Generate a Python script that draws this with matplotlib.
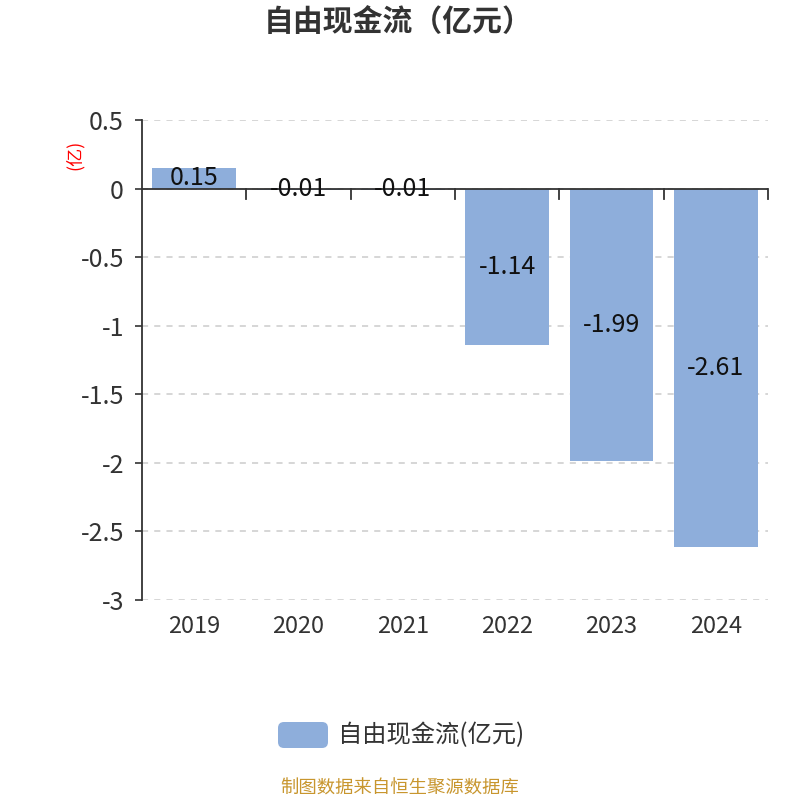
import matplotlib
matplotlib.use("Agg")
import matplotlib.pyplot as plt
from matplotlib.patches import FancyBboxPatch

plt.rcParams['font.family'] = ['Noto Sans CJK SC', 'DejaVu Sans']

years = ['2019', '2020', '2021', '2022', '2023', '2024']
values = [0.15, -0.01, -0.01, -1.14, -1.99, -2.61]
value_labels = ['0.15', '-0.01', '-0.01', '-1.14', '-1.99', '-2.61']
yticks = [0.5, 0, -0.5, -1, -1.5, -2, -2.5, -3]
ytick_labels = ['0.5', '0', '-0.5', '-1', '-1.5', '-2', '-2.5', '-3']

title = '自由现金流（亿元）'
series_name = '自由现金流(亿元)'
unit_label = '(亿)'
source = '制图数据来自恒生聚源数据库'

bar_color = '#8eaedb'
text_color = '#333333'

fig = plt.figure(figsize=(8, 8), dpi=100)
ax = fig.add_axes([142/800, 1-600/800, (768-142)/800, 480/800])

x = list(range(len(years)))
ax.bar(x, values, width=0.8, color=bar_color, zorder=3)

ax.set_xlim(-0.5, len(years) - 0.5)
ax.set_ylim(-3, 0.5)

ax.set_yticks(yticks)
ax.set_yticklabels(ytick_labels, fontsize=18, color=text_color)
ax.tick_params(axis='y', length=5, width=1.2, color=text_color, pad=8)

for y in yticks:
    ax.axhline(y, color='#cccccc', linestyle=(0, (4, 4)), linewidth=1.1, zorder=1)

for s in ['top', 'right', 'bottom']:
    ax.spines[s].set_visible(False)
ax.spines['left'].set_color(text_color)
ax.spines['left'].set_linewidth(1.3)

# x axis line at zero with boundary ticks
ax.axhline(0, color=text_color, linewidth=1.3, zorder=4)
ax.set_xticks([])
for b in range(1, len(years) + 1):
    ax.plot([b - 0.5, b - 0.5], [0, -0.075], color=text_color, linewidth=1.3, zorder=4, clip_on=False)

# category labels at bottom
for i, yr in enumerate(years):
    ax.text(i, -3.11, yr, ha='center', va='top', fontsize=17, color=text_color)

# data labels centered on bars
for i, (v, lab) in enumerate(zip(values, value_labels)):
    ax.text(i, v / 2, lab, ha='center', va='center', fontsize=18, color='#111111', zorder=5)

# unit label
fig.text(75/800, 1-155/800, unit_label, rotation=90, color='red', fontsize=13,
         ha='center', va='center')

# title
fig.text(398/800, 1-22/800, title, ha='center', va='center', fontsize=21.5,
         fontweight='bold', color=text_color)

# legend
leg_ax = fig.add_axes([0, 0, 1, 1], facecolor='none')
leg_ax.set_xlim(0, 800)
leg_ax.set_ylim(800, 0)
leg_ax.axis('off')
leg_ax.add_patch(FancyBboxPatch((278, 722), 50, 26, boxstyle='round,pad=0,rounding_size=6',
                                facecolor=bar_color, edgecolor='none'))
leg_ax.text(338, 735, series_name, ha='left', va='center', fontsize=17.5, color=text_color)

# source
fig.text(400/800, 1-789/800, source, ha='center', va='center', fontsize=13.2, color='#c8962e')

fig.savefig('out.png', dpi=100)
